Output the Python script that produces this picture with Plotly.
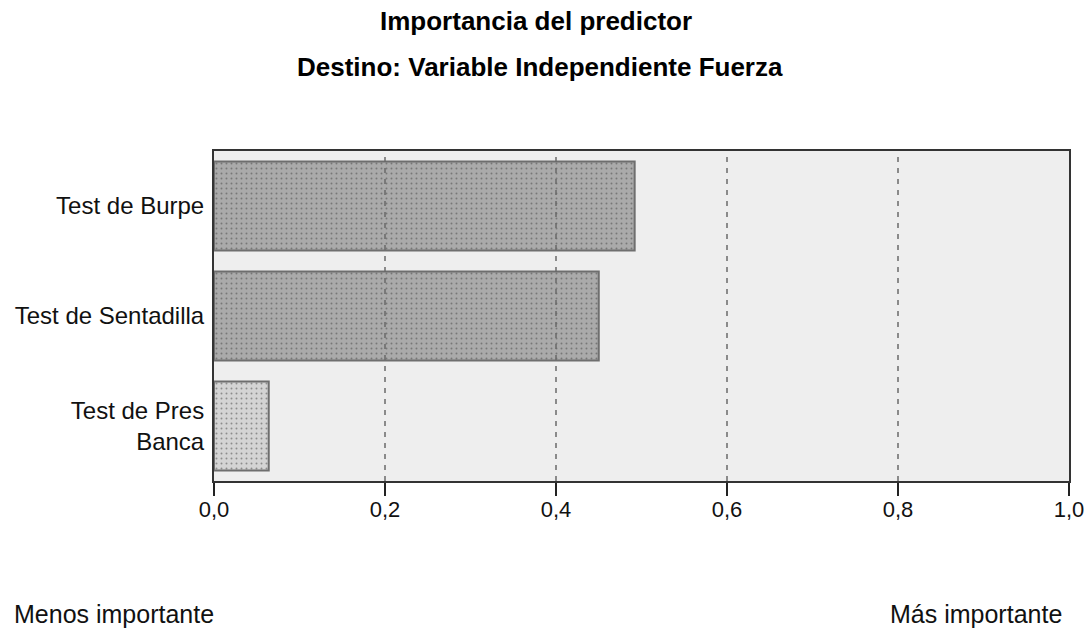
import plotly.graph_objects as go

categories = ["Test de Burpe", "Test de Sentadilla", "Test de Pres<br>Banca"]
importance = [0.492, 0.450, 0.064]
bar_colors = ["#aaaaaa", "#aaaaaa", "#d4d4d4"]
tick_vals = [0.0, 0.2, 0.4, 0.6, 0.8, 1.0]
tick_text = ["0,0", "0,2", "0,4", "0,6", "0,8", "1,0"]
grid_vals = [0.2, 0.4, 0.6, 0.8]

FONT = "Liberation Sans, Arial, sans-serif"

fig = go.Figure()
fig.add_trace(go.Bar(
    y=categories, x=importance, orientation="h",
    width=0.81,
    marker=dict(
        color=bar_colors,
        line=dict(color="#6e6e6e", width=2),
        pattern=dict(shape=".", fgcolor="#c2c2c2", size=5, solidity=0.12, fillmode="overlay"),
    ),
    hoverinfo="x+y",
))

shapes = []
for g in grid_vals:
    shapes.append(dict(type="line", xref="x", yref="paper", x0=g, x1=g, y0=0, y1=1,
                       line=dict(color="#6a6a6a", width=1.5, dash="5px,6px"), layer="above"))

PL, PR, PT, PB = 214, 1069, 151, 481

fig.update_layout(
    width=1088, height=631,
    autosize=False,
    margin=dict(l=PL, r=1088 - PR, t=PT, b=631 - PB, autoexpand=False),
    paper_bgcolor="white",
    plot_bgcolor="#eeeeee",
    showlegend=False,
    bargap=0.19,
    shapes=shapes,
    font=dict(family=FONT, size=24, color="#111111"),
    xaxis=dict(
        range=[0, 1.0], tickvals=tick_vals, ticktext=tick_text,
        automargin=False,
        showgrid=False, zeroline=False,
        showline=True, linecolor="#333333", linewidth=2, mirror=True,
        ticks="outside", ticklen=13, tickwidth=2, tickcolor="#222222",
        ticklabelstandoff=-5,
        tickfont=dict(family=FONT, size=22, color="#111111"),
    ),
    yaxis=dict(
        categoryorder="array", categoryarray=categories[::-1],
        range=[-0.5, 2.5],
        automargin=False,
        showgrid=False, zeroline=False,
        showline=True, linecolor="#333333", linewidth=2, mirror=True,
        ticks="", ticklabelstandoff=3,
        tickfont=dict(family=FONT, size=24, color="#111111"),
    ),
    annotations=[
        dict(text="<b>Importancia del predictor</b>", xref="paper", yref="paper",
             x=(536 - PL) / (PR - PL), y=1, yshift=(PT - 21), xanchor="center", yanchor="middle",
             showarrow=False, font=dict(family=FONT, size=26, color="#000000")),
        dict(text="<b>Destino: Variable Independiente Fuerza</b>", xref="paper", yref="paper",
             x=(540 - PL) / (PR - PL), y=1, yshift=(PT - 67), xanchor="center", yanchor="middle",
             showarrow=False, font=dict(family=FONT, size=26, color="#000000")),
        dict(text="Menos importante", xref="paper", yref="paper",
             x=0, xshift=12 - PL, y=0, yshift=-(614 - PB), xanchor="left", yanchor="middle",
             showarrow=False, font=dict(family=FONT, size=25, color="#111111")),
        dict(text="Más importante", xref="paper", yref="paper",
             x=1, xshift=-5, y=0, yshift=-(614 - PB), xanchor="right", yanchor="middle",
             showarrow=False, font=dict(family=FONT, size=25, color="#111111")),
    ],
)

fig.write_html("out.html", config={"displayModeBar": False},
               post_script="document.body.style.margin='0';")
